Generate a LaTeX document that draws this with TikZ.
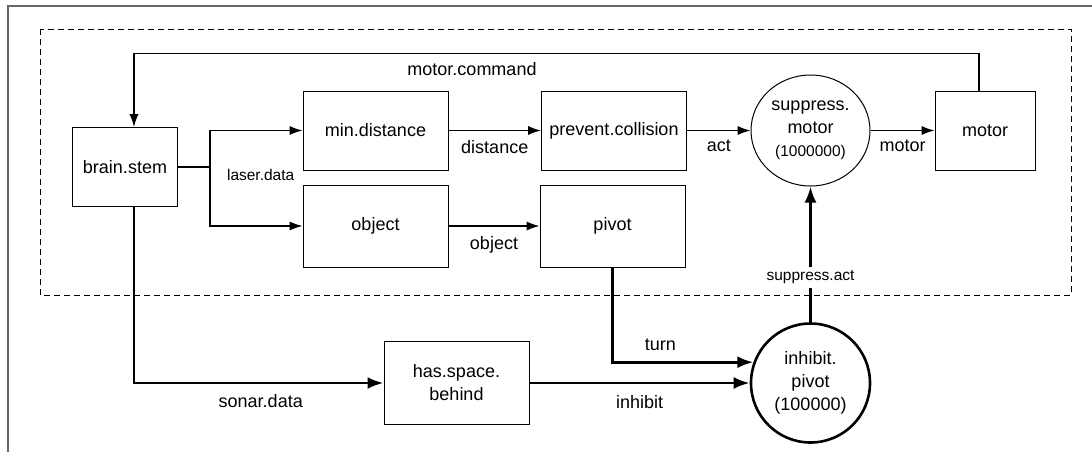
\documentclass[tikz,border=0pt]{standalone}
\usepackage{fontspec}
\setmainfont{Liberation Sans}
\usetikzlibrary{calc,arrows.meta,positioning,shapes.geometric}
\newcommand{\smalllbl}{\fontsize{7.75}{9.5}\selectfont}

\begin{document}
\begin{tikzpicture}[x=0.5pt, y=-0.5pt, >={Latex[length=6.5pt,width=4.6pt]},
  wire/.style={draw=black, line width=0.65pt},
  heavywire/.style={draw=black, line width=1.4pt, >={Latex[length=8pt,width=6pt]}},
  every node/.style={font=\fontsize{9}{11.5}\selectfont}]
\useasboundingbox (0,0) rectangle (1092,452);
% Define styles for blocks, merge circles and small labels
\tikzstyle{block} = [draw, fill=white, rectangle, minimum height=39.5pt, minimum width=72.5pt, line width=0.5pt, inner sep=0pt, align=center]
\tikzstyle{supp} = [draw, fill=white, ellipse, minimum width=59.5pt, minimum height=55.5pt, line width=0.5pt, inner sep=0pt, align=center]
\tikzstyle{inhib} = [draw, fill=white, circle, minimum size=59.5pt, line width=1.3pt, inner sep=0pt, align=center]
\tikzstyle{tinylabel} = [font=\smalllbl]

% Outer frame and dashed group
\draw[black!60, line width=1pt] (8,452) -- (8,6) -- (1092,6);
\draw[dash pattern=on 3pt off 2pt, line width=0.5pt] (40,29) rectangle (1071,295);

% Nodes placement
\node [block, minimum width=52.5pt] (brain) at (125,167) {brain.stem};
\node [block] (mindist) at (375.5,130.5) {min.distance};
\node [block, right of=mindist, node distance=119.25pt] (prevent) {prevent.collision};
\node [block, below of=mindist, node distance=47.75pt, minimum height=41pt] (object) {object};
\node [block, right of=object, node distance=118.5pt, minimum height=41pt] (pivot) {pivot};
\node [supp, right of=prevent, node distance=98.25pt] (supmotor) {suppress.\\motor\\{\smalllbl (1000000)}};
\node [block, right of=supmotor, node distance=87.25pt, minimum width=50pt] (motor) {motor};
\node [inhib, below of=supmotor, node distance=126.25pt] (inhpivot) {inhibit.\\pivot\\(100000)};
\node [block, minimum height=41.5pt] (hasspace) at (456.5,383) {has.space.\\behind};

% Draw edges
\coordinate (split) at ($(brain.east)+(32,0)$);
\draw[wire,->] (brain.east) -- (split) |- (mindist.west);
\draw[wire,->] (split) |- (object.west);
\node [tinylabel, anchor=west] (laserlbl) at ($(split)+(10,8)$) {laser.data};
\draw[wire,->] (mindist) -- node[below=1.5pt] {distance} (prevent);
\draw[wire,->] (prevent) -- node[below=1pt] {act} (supmotor);
\draw[wire,->] (object) -- node[below=1.5pt] {object} (pivot);
\draw[wire,->] (supmotor) -- node[below=1pt] {motor} (motor);

% Feedback to brain.stem
\draw[wire,->] ([xshift=-3pt]motor.north) -- ++(0,-37) -| node[below=1pt, pos=0.3] {motor.command} ([xshift=4.5pt]brain.north);

% Sonar branch and inhibition
\draw[heavywire,->] ([xshift=4.5pt]brain.south) |- node[below=1.5pt, pos=0.754] {sonar.data} (hasspace.west);
\draw[heavywire,->] (hasspace) -- node[below=2pt] {inhibit} (inhpivot);
\draw[heavywire,->] (pivot.south) |- node[above=1.5pt, pos=0.67] {turn} (inhpivot.160);
\draw[heavywire,->] (inhpivot) -- node[tinylabel, fill=white, pos=0.33, inner sep=2pt] {suppress.act} (supmotor);
\end{tikzpicture}
\end{document}
